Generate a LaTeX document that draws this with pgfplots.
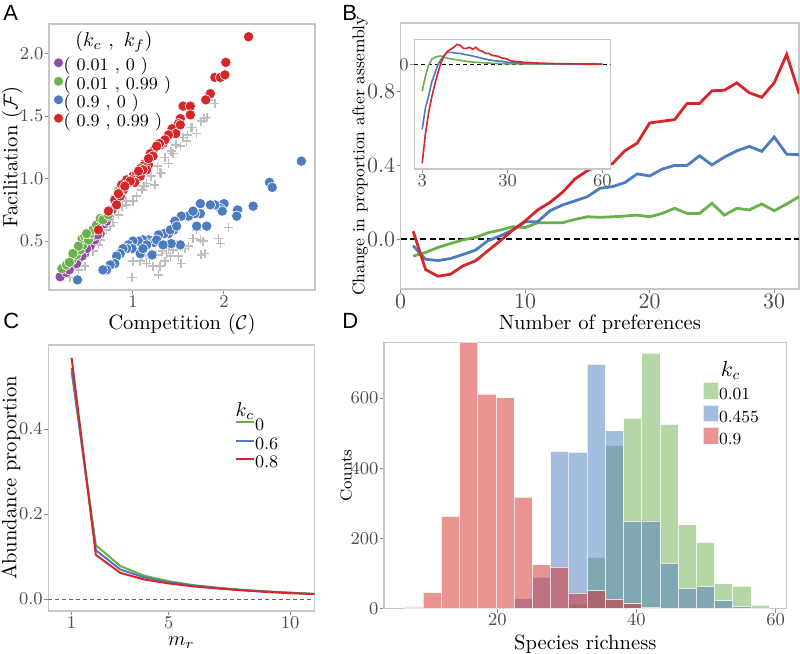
\documentclass[border=0pt]{standalone}
\usepackage{fontspec}
\usepackage{pgfplots}
\pgfplotsset{compat=1.18}
\newfontfamily\panelfont{Liberation Sans}
\definecolor{cP}{RGB}{142,78,165}
\definecolor{cG}{RGB}{106,176,76}
\definecolor{cB}{RGB}{76,123,192}
\definecolor{cR}{RGB}{214,39,40}
\definecolor{cX}{RGB}{190,190,190}
\pgfplotsset{
 myaxis/.style={
  scale only axis,
  anchor=north west,
  axis line style={draw=black!22, line width=0.6pt},
  tick style={draw=black!45, line width=0.5pt},
  major tick length=2pt,
  tick align=outside,
  xtick pos=bottom, ytick pos=left,
  tick label style={color=black!70, font=\fontsize{9.5}{11}\selectfont, inner sep=0.6pt},
  label style={font=\fontsize{10.3}{12}\selectfont, inner sep=0pt},
 },
 onedec/.style={yticklabel style={/pgf/number format/.cd,fixed,fixed zerofill,precision=1}},
 xlab/.style={xlabel style={at={(axis description cs:0.5,#1)}, anchor=center}},
 ylab/.style={ylabel style={at={(axis description cs:#1,0.5)}, anchor=center}},
}
\begin{document}
\begin{tikzpicture}
\useasboundingbox (0pt,0pt) rectangle (400pt,-327pt);
% ---------------- Panel A
\begin{axis}[myaxis, onedec, at={(24.5pt,-12pt)}, width=133pt, height=133pt,
  xmin=0.077, xmax=3.0, ymin=0.109, ymax=2.237,
  xtick={1,2}, ytick={0.5,1,1.5,2},
  xlabel={Competition ($\mathcal{C}$)}, ylabel={Facilitation ($\mathcal{F}$)},
  xlab=-0.13, ylab=-0.138,
  legend style={at={(axis description cs:0.017,0.873)}, anchor=north west, draw=none, fill=none,
    font=\fontsize{8.8}{10}\selectfont, row sep=0pt, inner sep=0pt, outer sep=0pt,
    nodes={text height=5.8pt, text depth=2.7pt, inner sep=0pt}},
  legend cell align=left,
  legend image code/.code={\draw[#1, mark size=2.5pt] plot coordinates {(2.6pt,2.5pt)};},
  /tikz/every even column/.append style={column sep=6.4pt},
]
\addplot[forget plot, only marks, mark=+, mark size=2.3pt, draw=cX, line width=0.8pt] coordinates {
(1.83,1.63)(1.81,1.49)(1.70,1.36)(1.64,1.41)(1.59,1.30)(1.52,1.26)(1.44,1.20)(1.39,1.12)(1.31,1.04)(1.24,0.95)
(1.15,0.96)(1.10,0.91)(1.04,0.86)(1.00,0.82)(0.93,0.79)(0.84,0.71)(0.71,0.59)(0.64,0.51)(0.56,0.42)(0.47,0.30)
(0.31,0.21)(1.75,1.46)(1.78,1.48)(1.65,1.41)(1.42,1.22)(1.30,1.05)(1.12,0.94)(0.92,0.82)(1.55,1.33)(1.47,1.27)
(1.35,1.17)(1.20,1.02)(0.88,0.78)(0.78,0.65)(0.62,0.47)(0.40,0.27)(1.27,1.10)(1.60,1.35)(1.90,1.60)(0.75,0.62)
(0.99,0.21)(1.28,0.23)(1.30,0.30)(1.22,0.30)(1.08,0.34)(1.00,0.34)(1.15,0.32)(1.26,0.39)(1.37,0.40)(1.39,0.44)
(1.44,0.43)(1.50,0.38)(1.53,0.32)(1.57,0.44)(1.61,0.46)(1.66,0.52)(1.70,0.59)(1.74,0.51)(1.77,0.50)(1.79,0.40)
(1.75,0.39)(1.94,0.52)(1.96,0.48)(2.05,0.61)(1.35,0.34)(1.41,0.38)(1.18,0.36)(1.48,0.47)(1.32,0.42)(1.10,0.38)};
\addplot[only marks, mark=*, mark size=2.6pt, fill=cP, draw=white, line width=0.3pt] coordinates {
(0.20,0.215)(0.27,0.25)(0.33,0.30)(0.40,0.35)(0.47,0.40)(0.53,0.46)(0.58,0.51)(0.64,0.56)(0.69,0.64)(0.77,0.75)
(0.82,0.81)(0.80,0.84)(0.38,0.32)(0.49,0.44)(0.56,0.54)(0.71,0.66)(0.30,0.27)(0.44,0.38)(0.61,0.55)(0.74,0.70)};
\addlegendentry{( 0.01 , 0 )}
\addplot[only marks, mark=*, mark size=2.6pt, fill=cG, draw=white, line width=0.3pt] coordinates {
(0.22,0.28)(0.27,0.31)(0.33,0.35)(0.38,0.39)(0.42,0.43)(0.45,0.47)(0.44,0.52)(0.47,0.54)(0.51,0.51)(0.53,0.56)
(0.56,0.59)(0.60,0.63)(0.64,0.68)(0.67,0.67)(0.73,0.71)(0.84,0.90)(0.49,0.56)(0.40,0.46)(0.34,0.40)(0.30,0.33)};
\addlegendentry{( 0.01 , 0.99 )}
\addplot[only marks, mark=*, mark size=2.6pt, fill=cB, draw=white, line width=0.3pt] coordinates {
(2.85,1.14)(2.50,0.97)(2.53,0.93)(2.32,0.78)(2.15,0.75)(2.14,0.70)(2.00,0.80)(1.96,0.76)(1.98,0.74)(1.90,0.79)
(1.85,0.79)(1.74,0.80)(1.74,0.72)(1.68,0.72)(1.61,0.70)(1.66,0.74)(1.70,0.62)(1.81,0.62)(1.53,0.70)(1.46,0.66)
(1.45,0.59)(1.39,0.56)(1.34,0.56)(1.28,0.55)(1.41,0.59)(1.17,0.51)(1.11,0.51)(1.06,0.50)(1.00,0.50)(0.95,0.47)
(0.99,0.44)(0.93,0.44)(0.89,0.44)(0.86,0.40)(0.82,0.38)(0.80,0.32)(0.75,0.31)(0.71,0.27)(0.67,0.27)(1.23,0.49)
(1.26,0.51)(1.15,0.47)(1.21,0.39)(1.52,0.47)(1.42,0.48)(1.33,0.47)(1.08,0.40)(1.11,0.44)(0.39,0.19)(1.48,0.62)};
\addlegendentry{( 0.9 , 0 )}
\addplot[only marks, mark=*, mark size=2.6pt, fill=cR, draw=white, line width=0.3pt] coordinates {
(2.27,2.135)(2.02,1.93)(1.90,1.81)(1.96,1.81)(2.01,1.83)(1.85,1.68)(1.80,1.63)(1.55,1.58)(1.63,1.58)(1.63,1.51)
(1.52,1.48)(1.50,1.44)(1.43,1.40)(1.52,1.43)(1.47,1.36)(1.39,1.35)(1.33,1.28)(1.30,1.27)(1.35,1.31)(1.22,1.22)
(1.29,1.28)(1.19,1.20)(1.13,1.12)(1.11,1.10)(1.17,1.11)(1.08,1.08)(1.15,1.07)(1.00,1.02)(1.04,1.04)(1.08,1.02)
(0.99,0.99)(1.02,0.97)(0.93,0.99)(0.875,0.95)(0.894,0.91)(0.80,0.83)(0.86,0.86)(0.82,0.79)(0.73,0.74)(0.62,0.59)
(1.22,1.18)(1.26,1.26)(1.17,1.16)(1.11,1.07)(1.06,1.06)(0.97,0.98)(0.84,0.88)(0.91,0.94)};
\addlegendentry{( 0.9 , 0.99 )}
\node[font=\fontsize{10}{12}\selectfont] at (axis description cs:0.244,0.932) {$(k_c\ ,\ k_f)$};
\end{axis}
% ---------------- Panel B
\begin{axis}[myaxis, onedec, at={(200.35pt,-11.5pt)}, width=199.2pt, height=133pt,
  xmin=0, xmax=32, ymin=-0.27, ymax=1.17,
  xtick={0,10,20,30}, ytick={0,0.4,0.8},
  tick label style={font=\fontsize{10.5}{12}\selectfont},
  xlabel={Number of preferences}, ylabel={Change in proportion after assembly},
  xlab=-0.132, ylab=-0.102,
  ylabel style={font=\fontsize{8.5}{10}\selectfont},
]
\addplot[black, line width=1.3pt, dash pattern=on 3pt off 1.8pt] coordinates {(0,0)(32,0)};
\addplot[cG, line width=1.4pt] coordinates {
(1,-0.092)(2,-0.072)(3,-0.045)(4,-0.024)(5,-0.004)(6,0.009)(7,0.034)(8,0.049)(9,0.067)(10,0.062)
(11,0.089)(12,0.089)(13,0.089)(14,0.107)(15,0.121)(16,0.118)(17,0.121)(18,0.125)(19,0.130)(20,0.121)
(21,0.139)(22,0.167)(23,0.139)(24,0.139)(25,0.194)(26,0.130)(27,0.167)(28,0.158)(29,0.190)(30,0.154)
(31,0.190)(32,0.230)};
\addplot[cB, line width=1.4pt] coordinates {
(1,-0.036)(2,-0.109)(3,-0.116)(4,-0.105)(5,-0.083)(6,-0.060)(7,-0.009)(8,0.018)(9,0.049)(10,0.094)
(11,0.094)(12,0.154)(13,0.185)(14,0.207)(15,0.230)(16,0.275)(17,0.284)(18,0.306)(19,0.353)(20,0.342)
(21,0.379)(22,0.399)(23,0.399)(24,0.451)(25,0.402)(26,0.444)(27,0.478)(28,0.502)(29,0.475)(30,0.553)
(31,0.460)(32,0.457)};
\addplot[cR, line width=1.4pt] coordinates {
(1,0.043)(2,-0.165)(3,-0.201)(4,-0.190)(5,-0.145)(6,-0.118)(7,-0.063)(8,-0.009)(9,0.049)(10,0.098)
(11,0.158)(12,0.199)(13,0.254)(14,0.326)(15,0.371)(16,0.402)(17,0.408)(18,0.478)(19,0.520)(20,0.629)
(21,0.638)(22,0.647)(23,0.734)(24,0.734)(25,0.803)(26,0.806)(27,0.846)(28,0.792)(29,0.768)(30,0.846)
(31,1.000)(32,0.788)};
\end{axis}
% ---------------- Inset
\begin{axis}[myaxis, at={(207.15pt,-19.65pt)}, width=98.2pt, height=64.85pt,
  xmin=0.5, xmax=62.6, ymin=-1.047, ymax=0.25,
  xtick={3,30,60}, ytick={0},
  tick label style={font=\fontsize{9}{10}\selectfont},
  axis background/.style={fill=white},
]
\addplot[black, line width=0.6pt, dash pattern=on 2pt off 1.5pt] coordinates {(0.5,0)(62.6,0)};
\addplot[cG, line width=0.8pt] coordinates {
(3,-0.27)(4,-0.12)(5,-0.01)(6,0.05)(7,0.07)(8,0.08)(9,0.083)(10,0.07)(11,0.06)(12,0.055)(13,0.05)(14,0.045)
(16,0.035)(18,0.025)(20,0.02)(25,0.01)(30,0.005)(40,0.002)(60,0)};
\addplot[cB, line width=0.8pt] coordinates {
(3,-0.65)(4,-0.44)(5,-0.32)(6,-0.18)(7,-0.09)(8,0.00)(9,0.05)(10,0.09)(11,0.12)(12,0.12)(13,0.115)(14,0.11)
(15,0.11)(16,0.10)(17,0.095)(18,0.09)(20,0.075)(22,0.06)(24,0.045)(26,0.035)(28,0.03)(30,0.02)(33,0.015)
(36,0.01)(40,0.007)(45,0.004)(50,0.003)(60,0.001)};
\addplot[cR, line width=0.8pt] coordinates {
(3,-0.99)(4,-0.70)(5,-0.49)(6,-0.33)(7,-0.20)(8,-0.08)(9,0.02)(10,0.09)(11,0.13)(12,0.15)(13,0.17)(14,0.20)
(15,0.19)(16,0.16)(17,0.16)(18,0.17)(19,0.15)(20,0.17)(21,0.14)(22,0.13)(23,0.11)(24,0.11)(25,0.09)(26,0.085)
(27,0.08)(28,0.065)(29,0.06)(30,0.05)(31,0.035)(32,0.03)(33,0.025)(34,0.025)(35,0.02)(36,0.02)(38,0.015)
(40,0.012)(42,0.01)(45,0.007)(50,0.005)(55,0.003)(60,0.002)};
\end{axis}
% ---------------- Panel C
\begin{axis}[myaxis, onedec, at={(24.15pt,-172.5pt)}, width=133pt, height=133pt,
  xmin=0.04, xmax=11, ymin=-0.028, ymax=0.598,
  xtick={1,5,10}, ytick={0,0.2,0.4},
  xlabel={$m_r$}, ylabel={Abundance proportion},
  xlab=-0.118, ylab=-0.14,
  legend style={at={(axis description cs:0.702,0.728)}, anchor=north west, draw=none, fill=none,
    font=\fontsize{8.8}{10}\selectfont, row sep=0pt, inner sep=0pt, outer sep=0pt,
    nodes={text height=6.5pt, text depth=2.9pt, inner sep=0pt}},
  legend cell align=left,
  legend image code/.code={\draw[#1] (0pt,2.5pt) -- (9pt,2.5pt);},
  /tikz/every even column/.append style={column sep=5.1pt},
]
\addplot[forget plot, black!60, line width=0.5pt, dash pattern=on 2pt off 1.5pt] coordinates {(0.04,0)(11,0)};
\addplot[cG, line width=1pt] coordinates {
(1,0.535)(2,0.127)(3,0.078)(4,0.055)(5,0.042)(6,0.033)(7,0.027)(8,0.022)(9,0.018)(10,0.015)(11,0.012)};
\addlegendentry{0}
\addplot[cB, line width=1pt] coordinates {
(1,0.544)(2,0.115)(3,0.070)(4,0.051)(5,0.040)(6,0.032)(7,0.026)(8,0.021)(9,0.018)(10,0.015)(11,0.012)};
\addlegendentry{0.6}
\addplot[cR, line width=1pt] coordinates {
(1,0.568)(2,0.104)(3,0.062)(4,0.046)(5,0.037)(6,0.030)(7,0.025)(8,0.021)(9,0.017)(10,0.014)(11,0.012)};
\addlegendentry{0.8}
\node[font=\fontsize{10}{12}\selectfont] at (axis description cs:0.7395,0.752) {$k_c$};
\end{axis}
% ---------------- Panel D
\begin{axis}[myaxis, at={(192pt,-171.35pt)}, width=201.35pt, height=133pt,
  xmin=3.7, xmax=61.6, ymin=0, ymax=758,
  xtick={20,40,60}, ytick={0,200,400,600},
  xlabel={Species richness}, ylabel={Counts},
  xlab=-0.132, ylab=-0.094,
  ylabel style={font=\fontsize{8}{10}\selectfont},
  legend style={at={(axis description cs:0.7914,0.852)}, anchor=north west, draw=none, fill=none,
    font=\fontsize{8.5}{10}\selectfont, row sep=0pt, inner sep=0pt, outer sep=0pt,
    nodes={text height=5.8pt, text depth=2.5pt, inner sep=0pt}},
  legend cell align=left,
  legend image code/.code={\fill[#1, draw=white] (0pt,-1.4pt) rectangle (7.8pt,6.9pt);},
  /tikz/every even column/.append style={column sep=5pt},
]
\addplot[ybar interval, fill=cG, fill opacity=0.5, draw=white, draw opacity=0.7, line width=0.4pt] coordinates {
(30.28,13)(32.90,146)(35.52,465)(38.14,543)(40.76,728)(43.38,525)(46.00,239)(48.62,189)(51.24,71)(53.86,64)(56.48,10)(59.10,10)};
\addlegendentry{0.01}
\addplot[ybar interval, fill=cB, fill opacity=0.5, draw=white, draw opacity=0.7, line width=0.4pt] coordinates {
(22.42,29)(25.04,90)(27.66,448)(30.28,446)(32.90,697)(35.52,507)(38.14,248)(40.76,250)(43.38,130)(46.00,59)(48.62,63)(51.24,23)(53.86,6)(56.48,6)};
\addlegendentry{0.455}
\addplot[ybar interval, fill=cR, fill opacity=0.5, draw=white, draw opacity=0.7, line width=0.4pt] coordinates {
(6.70,5)(9.32,46)(11.94,263)(14.56,760)(17.18,612)(19.80,601)(22.42,318)(25.04,125)(27.66,119)(30.28,45)(32.90,51)(35.52,26)(38.14,14)(40.76,3)(43.38,3)};
\addlegendentry{0.9}
\node[font=\fontsize{10.5}{12}\selectfont] at (axis description cs:0.861,0.897) {$k_c$};
\end{axis}
% ---------------- panel letters
\node[anchor=north west, inner sep=0pt, font=\panelfont\fontsize{11}{13}\selectfont] at (1.5pt,-2.5pt) {A};
\node[anchor=north west, inner sep=0pt, font=\panelfont\fontsize{11}{13}\selectfont] at (171pt,-2.5pt) {B};
\node[anchor=north west, inner sep=0pt, font=\panelfont\fontsize{11}{13}\selectfont] at (1.5pt,-156.5pt) {C};
\node[anchor=north west, inner sep=0pt, font=\panelfont\fontsize{11}{13}\selectfont] at (171pt,-156.5pt) {D};
\end{tikzpicture}
\end{document}
